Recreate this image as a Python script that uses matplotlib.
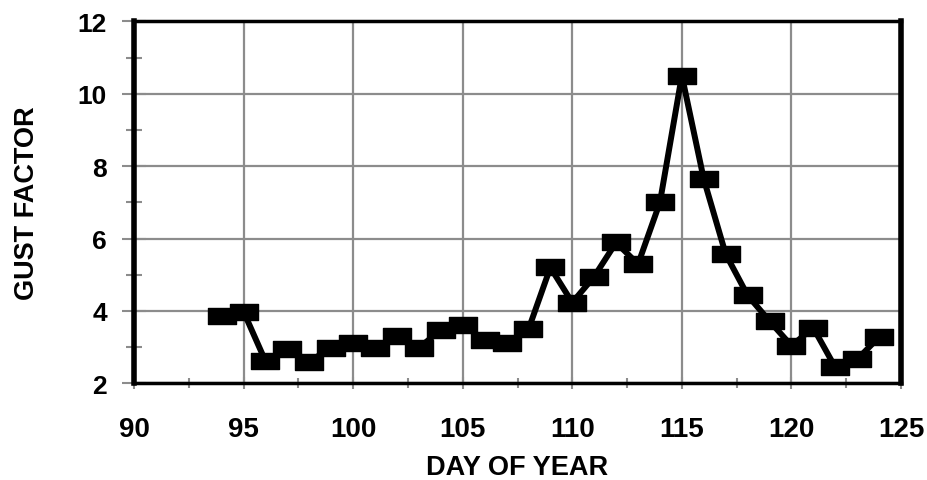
import matplotlib
matplotlib.use("Agg")
import matplotlib.pyplot as plt
from matplotlib.path import Path
from matplotlib.ticker import MultipleLocator

days = list(range(94, 125))
gust = [3.86, 3.98, 2.61, 2.96, 2.60, 2.98, 3.12, 2.98, 3.30, 2.98,
        3.47, 3.61, 3.20, 3.10, 3.49, 5.20, 4.23, 4.95, 5.89, 5.29,
        7.00, 10.50, 7.64, 5.57, 4.43, 3.72, 3.04, 3.53, 2.44, 2.66, 3.28]

plt.rcParams['font.family'] = ['Liberation Sans', 'DejaVu Sans']
plt.rcParams['font.weight'] = 'bold'

# wide rectangle marker
rect = Path([(-0.85, -0.5), (0.85, -0.5), (0.85, 0.5), (-0.85, 0.5), (-0.85, -0.5)],
            [Path.MOVETO, Path.LINETO, Path.LINETO, Path.LINETO, Path.CLOSEPOLY])

fig = plt.figure(figsize=(9.27, 4.81), dpi=100)
ax = fig.add_axes([134/927, 1 - 384.3/481, (901 - 134)/927, (384.3 - 22.3)/481])

ax.plot(days, gust, color='black', lw=4.3, marker=rect, ms=20, zorder=3)

ax.set_xlim(90, 125)
ax.set_ylim(2, 12)
ax.xaxis.set_major_locator(MultipleLocator(5))
ax.xaxis.set_minor_locator(MultipleLocator(2.5))
ax.yaxis.set_major_locator(MultipleLocator(2))
ax.yaxis.set_minor_locator(MultipleLocator(1))

ax.grid(True, which='major', color='#8c8c8c', lw=1.6, zorder=0)
ax.set_axisbelow(True)

grey = '#8c8c8c'
ax.tick_params(axis='x', which='major', direction='inout', length=9, width=1.5,
               color=grey, labelsize=20, pad=19)
ax.tick_params(axis='x', which='minor', direction='inout', length=7, width=1.5,
               color=grey)
ax.tick_params(axis='y', which='major', direction='inout', length=17, width=1.5,
               color=grey, labelsize=19, pad=11)
ax.tick_params(axis='y', which='minor', direction='inout', length=12, width=1.5,
               color=grey)
for lab in ax.get_xticklabels() + ax.get_yticklabels():
    lab.set_fontweight('bold')

ax.spines['left'].set_linewidth(4)
ax.spines['right'].set_linewidth(4)
ax.spines['top'].set_linewidth(2.5)
ax.spines['bottom'].set_linewidth(2.5)
for s in ax.spines.values():
    s.set_color('black')

ax.set_xlabel('DAY OF YEAR', fontsize=19.5, fontweight='bold', labelpad=9)
ax.set_ylabel('GUST FACTOR', fontsize=19.5, fontweight='bold', labelpad=27)

fig.savefig('out.png', dpi=100)
